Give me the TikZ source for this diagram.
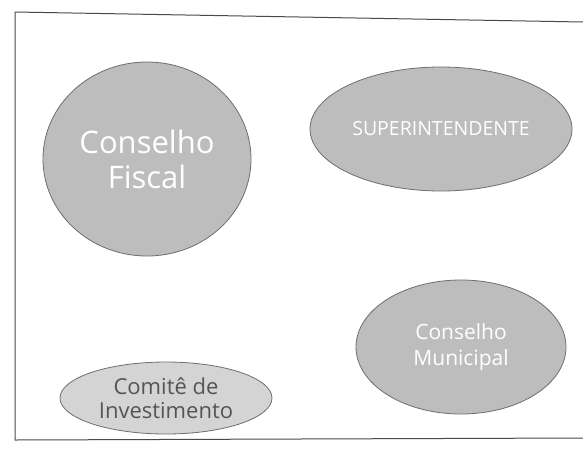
\documentclass[tikz,border=0pt]{standalone}
\usepackage{fontspec}
\setmainfont{Open Sans}
\usetikzlibrary{shapes.geometric}
\definecolor{ovalgray}{HTML}{BDBDBD}
\definecolor{ovallight}{HTML}{D4D4D4}
\definecolor{edgegray}{HTML}{6E6E6E}
\definecolor{framegray}{HTML}{4A4A4A}
\definecolor{darktext}{HTML}{555555}
\tikzset{
  oval/.style={ellipse, draw=edgegray, line width=0.8pt, fill=ovalgray, text=white, align=center, inner sep=0pt},
  ovallite/.style={oval, fill=ovallight, text=darktext}
}
\begin{document}
\begin{tikzpicture}[x=1pt,y=-1pt]
\useasboundingbox (0,0) rectangle (583,450);
\fill[white] (0,0) rectangle (583,450);
\draw[framegray, line width=1pt] (583,22) -- (15,12) -- (15,440) -- (583,438);
\node[oval, minimum width=208pt, minimum height=194pt, font=\fontsize{31}{35}\selectfont] (fiscal) at (147,159) {Conselho\\Fiscal};
\node[oval, minimum width=262pt, minimum height=124pt, font=\fontsize{19.5}{22}\selectfont] (super) at (441,129) {SUPERINTENDENTE};
\node[oval, minimum width=210pt, minimum height=134pt, font=\fontsize{21}{26}\selectfont] (municipal) at (461,347) {Conselho\\Municipal};
\node[ovallite, minimum width=212pt, minimum height=72pt, font=\fontsize{22}{24}\selectfont] (comite) at (166,398) {Comitê de\\Investimento};
\end{tikzpicture}
\end{document}
